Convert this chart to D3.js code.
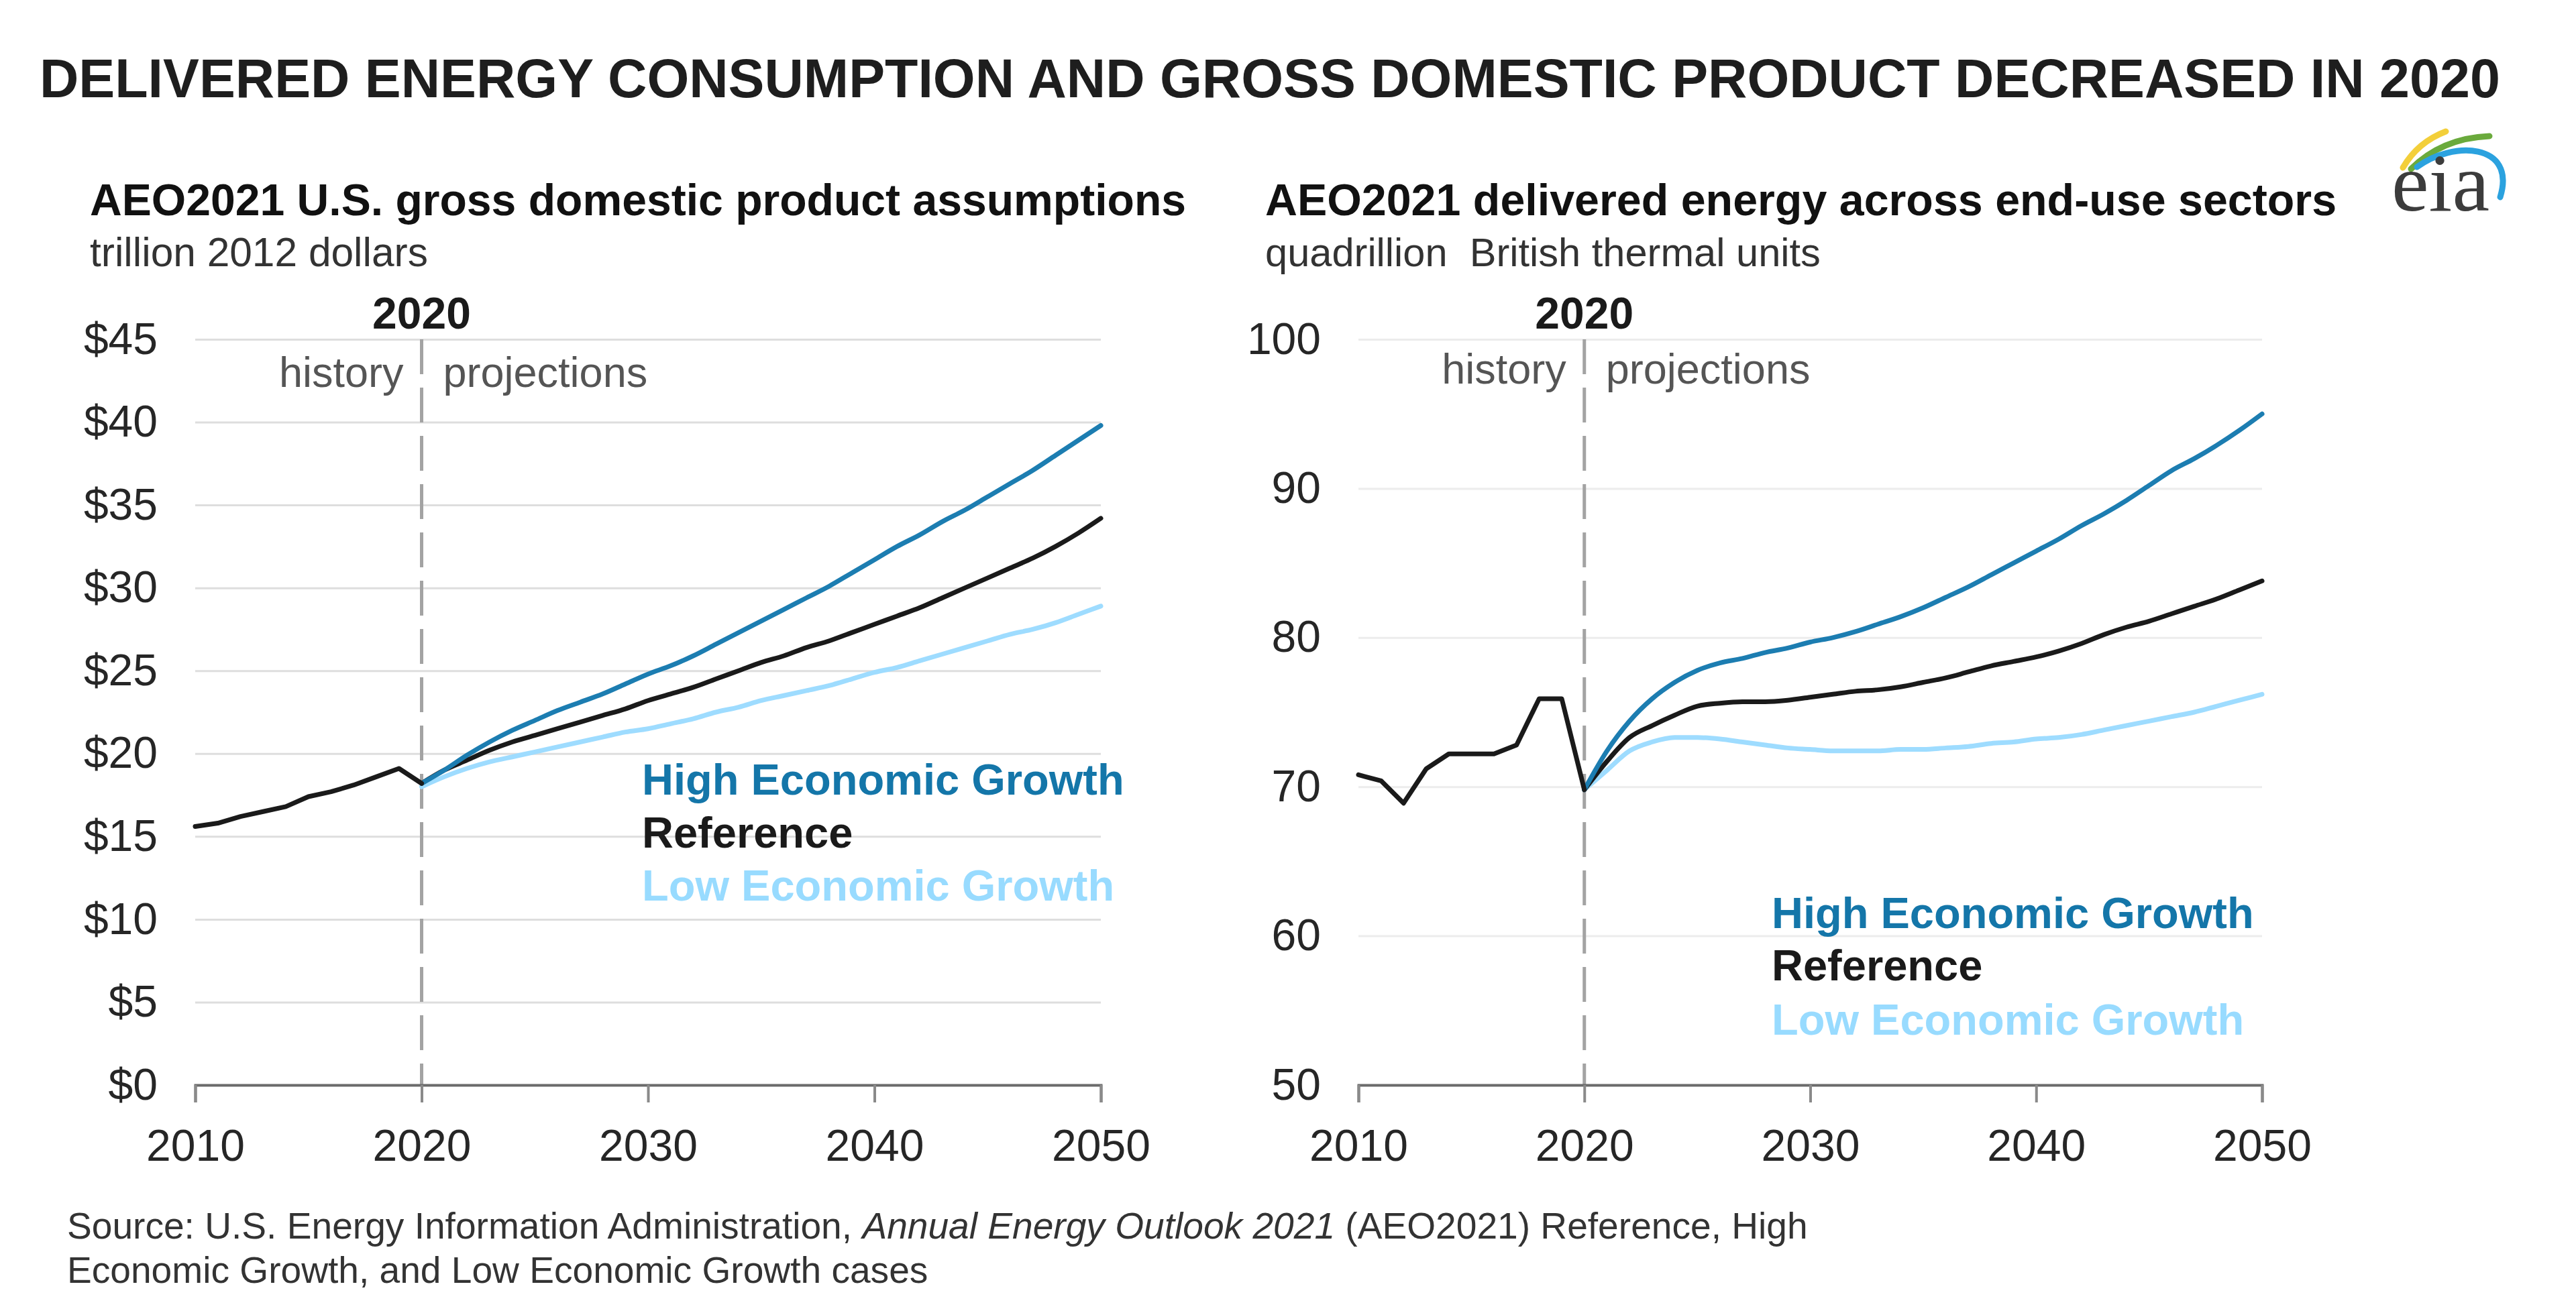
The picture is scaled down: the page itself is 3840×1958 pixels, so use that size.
<!DOCTYPE html>
<html><head><meta charset="utf-8">
<script src="https://cdn.jsdelivr.net/npm/d3@7"></script>
<style>
body{margin:0;background:#fff;}
svg{display:block;font-family:"Liberation Sans",Arial,Helvetica,sans-serif;}
</style>
</head><body>
<svg id="c" width="3840" height="1958"></svg>
<script>
// ---------------- DATA ----------------
const historyYears = [2010,2011,2012,2013,2014,2015,2016,2017,2018,2019,2020];
const projYears = [2020,2021,2022,2023,2024,2025,2026,2027,2028,2029,2030,2031,2032,2033,2034,2035,2036,2037,2038,2039,2040,2041,2042,2043,2044,2045,2046,2047,2048,2049,2050];

// GDP, trillion 2012 dollars
const gdpHistory = [15.6,15.8,16.2,16.5,16.8,17.4,17.7,18.1,18.6,19.1,18.2];
const gdpHigh = [18.2,19.0,19.9,20.7,21.4,22.0,22.6,23.1,23.6,24.2,24.8,25.3,25.9,26.6,27.3,28.0,28.7,29.4,30.1,30.9,31.7,32.5,33.2,34.0,34.7,35.5,36.3,37.1,38.0,38.9,39.8];
const gdpRef  = [18.2,19.0,19.6,20.2,20.7,21.1,21.5,21.9,22.3,22.7,23.2,23.6,24.0,24.5,25.0,25.5,25.9,26.4,26.8,27.3,27.8,28.3,28.8,29.4,30.0,30.6,31.2,31.8,32.5,33.3,34.2];
const gdpLow  = [18.0,18.6,19.1,19.5,19.8,20.1,20.4,20.7,21.0,21.3,21.5,21.8,22.1,22.5,22.8,23.2,23.5,23.8,24.1,24.5,24.9,25.2,25.6,26.0,26.4,26.8,27.2,27.5,27.9,28.4,28.9];

// Delivered energy, quadrillion Btu
const energyHistory = [70.8,70.4,68.9,71.2,72.2,72.2,72.2,72.8,75.9,75.9,69.8];
const energyHigh = [69.8,72.4,74.4,75.9,77.0,77.8,78.3,78.6,79.0,79.3,79.7,80.0,80.4,80.9,81.4,82.0,82.7,83.4,84.2,85.0,85.8,86.6,87.5,88.3,89.2,90.2,91.2,92.0,92.9,93.9,95.0];
const energyRef  = [69.8,71.7,73.3,74.1,74.8,75.4,75.6,75.7,75.7,75.8,76.0,76.2,76.4,76.5,76.7,77.0,77.3,77.7,78.1,78.4,78.7,79.1,79.6,80.2,80.7,81.1,81.6,82.1,82.6,83.2,83.8];
const energyLow  = [69.8,71.1,72.4,73.0,73.3,73.3,73.2,73.0,72.8,72.6,72.5,72.4,72.4,72.4,72.5,72.5,72.6,72.7,72.9,73.0,73.2,73.3,73.5,73.8,74.1,74.4,74.7,75.0,75.4,75.8,76.2];

const xTicks = [2010,2020,2030,2040,2050];
const gdpTicks = [0,5,10,15,20,25,30,35,40,45];
const energyTicks = [50,60,70,80,90,100];
const seriesNames = ["High Economic Growth","Reference","Low Economic Growth"];

// ---------------- STYLE ----------------
const COL = {high:"#1c7db1", ref:"#1a1a1a", low:"#9edcff", highText:"#1476a9", lowText:"#98dbff"};
const svg = d3.select("#c");
svg.append("rect").attr("width",3840).attr("height",1958).attr("fill","#fff");

function fit(sel, w){
  const n = sel.node(); const cur = n.getComputedTextLength();
  const fs = parseFloat(sel.attr("font-size"));
  sel.attr("font-size", (fs*w/cur).toFixed(2));
  return sel;
}

// Title
fit(svg.append("text").attr("x",59).attr("y",145).attr("font-size",80).attr("font-weight","bold")
  .attr("fill","#1e1e1e").text("DELIVERED ENERGY CONSUMPTION AND GROSS DOMESTIC PRODUCT DECREASED IN 2020"), 3668);

function panel(o){
  const g = svg.append("g");
  const x = d3.scaleLinear().domain([2010,2050]).range([o.x0,o.x1]);
  const y = d3.scaleLinear().domain([o.ticks[0], o.ticks[o.ticks.length-1]]).range([1618,506]);

  // subtitles
  fit(g.append("text").attr("x",o.tx).attr("y",321).attr("font-size",66).attr("font-weight","bold")
    .attr("fill","#111").text(o.title), o.titleW);
  fit(g.append("text").attr("x",o.tx).attr("y",397).attr("font-size",60)
    .attr("fill","#333").attr("xml:space","preserve").text(o.unit), o.unitW);

  // y grid + labels
  const ya = d3.axisLeft(y).tickValues(o.ticks).tickSize(-(o.x1-o.x0)).tickPadding(56).tickFormat(o.fmt);
  const yg = g.append("g").attr("transform",`translate(${o.x0},0)`).call(ya);
  yg.select(".domain").remove();
  yg.selectAll(".tick line").attr("stroke",o.grid).attr("stroke-width",3);
  yg.selectAll(".tick text").attr("font-size",66).attr("fill","#262626").attr("font-family",null);

  // dashed 2020 line
  g.append("line").attr("x1",x(2020)).attr("x2",x(2020)).attr("y1",y.range()[1]).attr("y2",y.range()[0])
    .attr("stroke","#a3a3a3").attr("stroke-width",5).attr("stroke-dasharray","52,20");

  // x axis
  const xa = d3.axisBottom(x).tickValues(xTicks).tickSize(26).tickPadding(20).tickFormat(d3.format("d"));
  const xg = g.append("g").attr("transform",`translate(0,${y.range()[0]})`).call(xa);
  xg.select(".domain").attr("stroke","#6b6b6b").attr("stroke-width",4);
  xg.selectAll(".tick line").attr("stroke","#8a8a8a").attr("stroke-width",4);
  xg.selectAll(".tick text").attr("font-size",66).attr("fill","#262626").attr("font-family",null)
    .attr("dy",null).attr("y",null).attr("transform","translate(0,113)");

  // annotations
  g.append("text").attr("x",x(2020)).attr("y",490).attr("text-anchor","middle").attr("font-size",66)
    .attr("font-weight","bold").attr("fill","#1a1a1a").text("2020");
  g.append("text").attr("x",x(2020)-27).attr("y",o.hy).attr("text-anchor","end").attr("font-size",63)
    .attr("fill","#555").text("history");
  g.append("text").attr("x",x(2020)+32).attr("y",o.hy).attr("font-size",63)
    .attr("fill","#555").text("projections");

  // lines
  const line = d3.line().x(d=>x(d[0])).y(d=>y(d[1])).curve(d3.curveMonotoneX);
  const mk = (yrs, vals) => yrs.map((yr,i)=>[yr, vals[i]]);
  const lg = g.append("g").attr("fill","none").attr("stroke-width",7).attr("stroke-linejoin","round").attr("stroke-linecap","round");
  lg.append("path").attr("d",line(mk(projYears,o.low))).attr("stroke",COL.low);
  lg.append("path").attr("d",line(mk(projYears,o.ref))).attr("stroke",COL.ref);
  lg.append("path").attr("d",line(mk(projYears,o.high))).attr("stroke",COL.high);
  lg.append("path").attr("d",d3.line().x(d=>x(d[0])).y(d=>y(d[1]))(mk(historyYears,o.hist))).attr("stroke",COL.ref);

  // legend labels
  const lc = [COL.highText, COL.ref, COL.lowText];
  seriesNames.forEach((nm,i)=>{
    g.append("text").attr("x",o.lx).attr("y",o.ly[i]).attr("font-size",65).attr("font-weight","bold")
      .attr("fill",lc[i]).text(nm);
  });
}

panel({x0:291,x1:1641,ticks:gdpTicks,fmt:d=>"$"+d,hist:gdpHistory,high:gdpHigh,ref:gdpRef,low:gdpLow,
  grid:"#dedede",tx:134,title:"AEO2021 U.S. gross domestic product assumptions",titleW:1634,
  unit:"trillion 2012 dollars",unitW:504,hy:577,lx:957,ly:[1185,1264,1343]});
panel({x0:2025,x1:3372,ticks:energyTicks,fmt:d=>d,hist:energyHistory,high:energyHigh,ref:energyRef,low:energyLow,
  grid:"#ececec",tx:1886,title:"AEO2021 delivered energy across end-use sectors",titleW:1597,
  unit:"quadrillion  British thermal units",unitW:828,hy:572,lx:2641,ly:[1384,1462,1543]});

// Source
const src = svg.append("g").attr("fill","#333");
const s1 = src.append("text").attr("x",100).attr("y",1847).attr("font-size",56);
s1.append("tspan").text("Source: U.S. Energy Information Administration, ");
s1.append("tspan").attr("font-style","italic").text("Annual Energy Outlook 2021");
s1.append("tspan").text(" (AEO2021) Reference, High");
fit(s1, 2595);
src.append("text").attr("x",100).attr("y",1913).attr("font-size",s1.attr("font-size"))
  .text("Economic Growth, and Low Economic Growth cases");

// eia logo
const logo = svg.append("g");
logo.append("path").attr("d","M3582,250 Q3604,212 3646,196").attr("fill","none").attr("stroke","#f3cf3a").attr("stroke-width",9).attr("stroke-linecap","round");
logo.append("path").attr("d","M3594,252 Q3640,206 3711,203").attr("fill","none").attr("stroke","#6aaa3c").attr("stroke-width",9).attr("stroke-linecap","round");
logo.append("path").attr("d","M3603,249 C3655,210 3752,212 3727,294").attr("fill","none").attr("stroke","#2ba2df").attr("stroke-width",9).attr("stroke-linecap","round");
const et = logo.append("text").attr("x",3565).attr("y",314).attr("font-size",122)
  .attr("font-family","'Liberation Serif','DejaVu Serif',serif").attr("fill","#3c3c3c").text("eia");
et.attr("textLength",146).attr("lengthAdjust","spacingAndGlyphs");
</script>
</body></html>
